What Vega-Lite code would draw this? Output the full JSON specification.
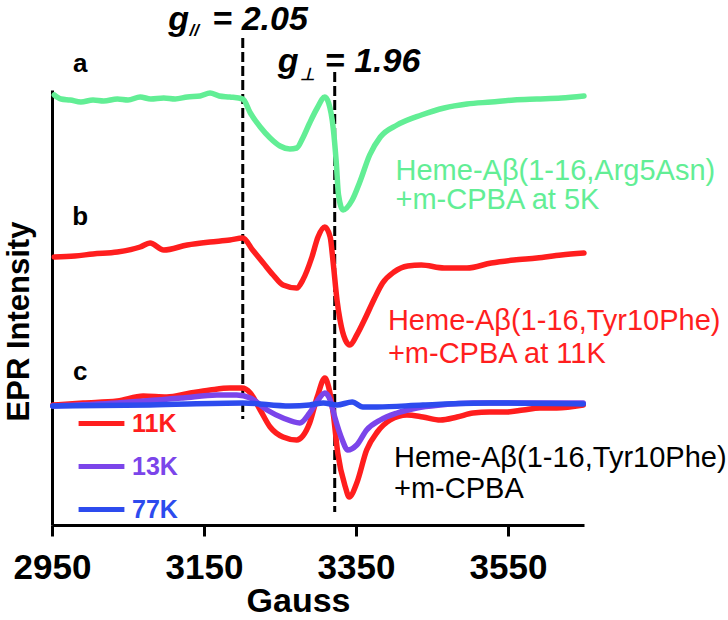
{
  "$schema": "https://vega.github.io/schema/vega-lite/v6.json",
  "autosize": {"type": "none"},
  "width": 532,
  "height": 435,
  "padding": {"left": 52, "top": 90, "right": 144, "bottom": 95},
  "background": "white",
  "config": {"view": {"stroke": null}, "font": "Liberation Sans"},
  "datasets": {
    "curves": [
      {"s": "a", "G": 2953, "v": 430}, {"s": "a", "G": 2962, "v": 426}, {"s": "a", "G": 2974, "v": 425}, {"s": "a", "G": 2988, "v": 423}, {"s": "a", "G": 3004, "v": 425}, {"s": "a", "G": 3018, "v": 424}, {"s": "a", "G": 3036, "v": 426}, {"s": "a", "G": 3050, "v": 425}, {"s": "a", "G": 3066, "v": 428}, {"s": "a", "G": 3080, "v": 426}, {"s": "a", "G": 3097, "v": 427}, {"s": "a", "G": 3112, "v": 426}, {"s": "a", "G": 3128, "v": 428}, {"s": "a", "G": 3145, "v": 429}, {"s": "a", "G": 3158, "v": 432}, {"s": "a", "G": 3170, "v": 429}, {"s": "a", "G": 3184, "v": 428}, {"s": "a", "G": 3201, "v": 426}, {"s": "a", "G": 3211, "v": 412}, {"s": "a", "G": 3224, "v": 398}, {"s": "a", "G": 3237, "v": 387}, {"s": "a", "G": 3250, "v": 379}, {"s": "a", "G": 3263, "v": 376}, {"s": "a", "G": 3272, "v": 377}, {"s": "a", "G": 3280, "v": 387}, {"s": "a", "G": 3289, "v": 402}, {"s": "a", "G": 3299, "v": 417}, {"s": "a", "G": 3309, "v": 428}, {"s": "a", "G": 3314, "v": 422}, {"s": "a", "G": 3320, "v": 397}, {"s": "a", "G": 3324, "v": 363}, {"s": "a", "G": 3327, "v": 330}, {"s": "a", "G": 3333, "v": 315}, {"s": "a", "G": 3345, "v": 325}, {"s": "a", "G": 3355, "v": 343}, {"s": "a", "G": 3368, "v": 370}, {"s": "a", "G": 3382, "v": 388}, {"s": "a", "G": 3404, "v": 400}, {"s": "a", "G": 3436, "v": 410}, {"s": "a", "G": 3466, "v": 417}, {"s": "a", "G": 3496, "v": 421}, {"s": "a", "G": 3528, "v": 423}, {"s": "a", "G": 3558, "v": 425}, {"s": "a", "G": 3588, "v": 426}, {"s": "a", "G": 3620, "v": 427}, {"s": "a", "G": 3650, "v": 429},
      {"s": "b", "G": 2953, "v": 268}, {"s": "b", "G": 2980, "v": 269}, {"s": "b", "G": 3004, "v": 271}, {"s": "b", "G": 3036, "v": 273}, {"s": "b", "G": 3066, "v": 278}, {"s": "b", "G": 3079, "v": 282}, {"s": "b", "G": 3097, "v": 275}, {"s": "b", "G": 3128, "v": 280}, {"s": "b", "G": 3158, "v": 283}, {"s": "b", "G": 3184, "v": 285}, {"s": "b", "G": 3201, "v": 287}, {"s": "b", "G": 3214, "v": 275}, {"s": "b", "G": 3228, "v": 262}, {"s": "b", "G": 3241, "v": 250}, {"s": "b", "G": 3254, "v": 240}, {"s": "b", "G": 3272, "v": 237}, {"s": "b", "G": 3280, "v": 245}, {"s": "b", "G": 3292, "v": 268}, {"s": "b", "G": 3300, "v": 288}, {"s": "b", "G": 3309, "v": 298}, {"s": "b", "G": 3316, "v": 288}, {"s": "b", "G": 3320, "v": 262}, {"s": "b", "G": 3325, "v": 225}, {"s": "b", "G": 3329, "v": 205}, {"s": "b", "G": 3336, "v": 185}, {"s": "b", "G": 3342, "v": 180}, {"s": "b", "G": 3351, "v": 190}, {"s": "b", "G": 3361, "v": 205}, {"s": "b", "G": 3374, "v": 226}, {"s": "b", "G": 3385, "v": 242}, {"s": "b", "G": 3400, "v": 253}, {"s": "b", "G": 3418, "v": 259}, {"s": "b", "G": 3436, "v": 260}, {"s": "b", "G": 3466, "v": 257}, {"s": "b", "G": 3496, "v": 257}, {"s": "b", "G": 3528, "v": 262}, {"s": "b", "G": 3558, "v": 265}, {"s": "b", "G": 3588, "v": 267}, {"s": "b", "G": 3620, "v": 270}, {"s": "b", "G": 3650, "v": 272},
      {"s": "11K", "G": 2951, "v": 120}, {"s": "11K", "G": 2991, "v": 122}, {"s": "11K", "G": 3036, "v": 124}, {"s": "11K", "G": 3070, "v": 129}, {"s": "11K", "G": 3101, "v": 128}, {"s": "11K", "G": 3132, "v": 132}, {"s": "11K", "G": 3158, "v": 135}, {"s": "11K", "G": 3184, "v": 137}, {"s": "11K", "G": 3200, "v": 137}, {"s": "11K", "G": 3211, "v": 132}, {"s": "11K", "G": 3224, "v": 115}, {"s": "11K", "G": 3237, "v": 98}, {"s": "11K", "G": 3254, "v": 88}, {"s": "11K", "G": 3272, "v": 85}, {"s": "11K", "G": 3280, "v": 89}, {"s": "11K", "G": 3289, "v": 102}, {"s": "11K", "G": 3299, "v": 128}, {"s": "11K", "G": 3309, "v": 147}, {"s": "11K", "G": 3314, "v": 138}, {"s": "11K", "G": 3320, "v": 112}, {"s": "11K", "G": 3326, "v": 72}, {"s": "11K", "G": 3336, "v": 38}, {"s": "11K", "G": 3341, "v": 28}, {"s": "11K", "G": 3351, "v": 42}, {"s": "11K", "G": 3364, "v": 75}, {"s": "11K", "G": 3378, "v": 93}, {"s": "11K", "G": 3395, "v": 105}, {"s": "11K", "G": 3417, "v": 110}, {"s": "11K", "G": 3438, "v": 108}, {"s": "11K", "G": 3461, "v": 105}, {"s": "11K", "G": 3483, "v": 108}, {"s": "11K", "G": 3504, "v": 112}, {"s": "11K", "G": 3526, "v": 113}, {"s": "11K", "G": 3549, "v": 113}, {"s": "11K", "G": 3570, "v": 115}, {"s": "11K", "G": 3592, "v": 117}, {"s": "11K", "G": 3614, "v": 117}, {"s": "11K", "G": 3649, "v": 120},
      {"s": "13K", "G": 2951, "v": 119}, {"s": "13K", "G": 3036, "v": 122}, {"s": "13K", "G": 3122, "v": 127}, {"s": "13K", "G": 3167, "v": 130}, {"s": "13K", "G": 3193, "v": 130}, {"s": "13K", "G": 3211, "v": 127}, {"s": "13K", "G": 3233, "v": 115}, {"s": "13K", "G": 3254, "v": 107}, {"s": "13K", "G": 3276, "v": 102}, {"s": "13K", "G": 3289, "v": 112}, {"s": "13K", "G": 3300, "v": 125}, {"s": "13K", "G": 3309, "v": 132}, {"s": "13K", "G": 3316, "v": 125}, {"s": "13K", "G": 3322, "v": 108}, {"s": "13K", "G": 3332, "v": 85}, {"s": "13K", "G": 3339, "v": 75}, {"s": "13K", "G": 3351, "v": 80}, {"s": "13K", "G": 3364, "v": 95}, {"s": "13K", "G": 3382, "v": 105}, {"s": "13K", "G": 3404, "v": 112}, {"s": "13K", "G": 3430, "v": 117}, {"s": "13K", "G": 3461, "v": 120}, {"s": "13K", "G": 3504, "v": 122}, {"s": "13K", "G": 3549, "v": 122}, {"s": "13K", "G": 3592, "v": 122}, {"s": "13K", "G": 3649, "v": 122},
      {"s": "77K", "G": 2951, "v": 119}, {"s": "77K", "G": 3079, "v": 120}, {"s": "77K", "G": 3201, "v": 122}, {"s": "77K", "G": 3263, "v": 119}, {"s": "77K", "G": 3289, "v": 120}, {"s": "77K", "G": 3307, "v": 122}, {"s": "77K", "G": 3325, "v": 120}, {"s": "77K", "G": 3345, "v": 123}, {"s": "77K", "G": 3359, "v": 118}, {"s": "77K", "G": 3378, "v": 118}, {"s": "77K", "G": 3438, "v": 120}, {"s": "77K", "G": 3526, "v": 122}, {"s": "77K", "G": 3649, "v": 121}
    ],
    "glines": [
      {"G": 3201, "v1": 487, "v2": 106},
      {"G": 3322, "v1": 453, "v2": 13}
    ],
    "panels": [
      {"G": 2987, "v": 453, "t": "a"},
      {"G": 2987, "v": 300, "t": "b"},
      {"G": 2987, "v": 145, "t": "c"}
    ],
    "labels": [
      {"grp": "a", "G": 3402, "v": 345, "t": "Heme-Aβ(1-16,Arg5Asn)"},
      {"grp": "a", "G": 3402, "v": 316, "t": "+m-CPBA at 5K"},
      {"grp": "b", "G": 3392, "v": 195, "t": "Heme-Aβ(1-16,Tyr10Phe)"},
      {"grp": "b", "G": 3392, "v": 162, "t": "+m-CPBA at 11K"},
      {"grp": "c", "G": 3400, "v": 58, "t": "Heme-Aβ(1-16,Tyr10Phe)"},
      {"grp": "c", "G": 3400, "v": 27, "t": "+m-CPBA"}
    ],
    "gbig": [
      {"G": 3103, "v": 495, "t": "g"},
      {"G": 3161, "v": 495, "t": "= 2.05"},
      {"G": 3247, "v": 453, "t": "g"},
      {"G": 3309, "v": 453, "t": "= 1.96"}
    ],
    "gsub": [
      {"G": 3131, "v": 489, "t": "//"},
      {"G": 3276, "v": 445, "t": "⊥"}
    ]
  },
  "layer": [
    {
      "data": {"name": "glines"},
      "mark": {"type": "rule", "color": "black", "strokeWidth": 3, "strokeDash": [10, 4]},
      "encoding": {
        "x": {"field": "G", "type": "quantitative"},
        "y": {"field": "v1", "type": "quantitative"},
        "y2": {"field": "v2"}
      }
    },
    {
      "data": {"name": "curves"},
      "mark": {"type": "line", "strokeWidth": 5.5, "strokeJoin": "round", "strokeCap": "round", "interpolate": "monotone"},
      "encoding": {
        "x": {"field": "G", "type": "quantitative",
          "scale": {"domain": [2950, 3650], "nice": false, "zero": false},
          "axis": {"values": [2950, 3150, 3350, 3550], "format": "d", "grid": false,
            "labelFont": "Liberation Sans", "labelFontWeight": "bold", "labelFontSize": 35, "labelColor": "black",
            "labelFlush": false, "labelOverlap": false, "labelBound": false, "labelPadding": 14,
            "domainColor": "black", "domainWidth": 3, "tickColor": "black", "tickWidth": 3, "tickSize": 11,
            "title": "Gauss", "titleFont": "Liberation Sans", "titleFontSize": 34, "titleFontWeight": "bold", "titleColor": "black",
            "titleX": 246, "titleY": 86, "titleAlign": "center", "titleBaseline": "alphabetic"}},
        "y": {"field": "v", "type": "quantitative",
          "scale": {"domain": [0, 435], "nice": false, "zero": false},
          "axis": {"ticks": false, "labels": false, "grid": false,
            "domainColor": "black", "domainWidth": 3,
            "title": "EPR Intensity", "titleFont": "Liberation Sans", "titleFontSize": 31, "titleFontWeight": "bold", "titleColor": "black",
            "titleX": -33, "titleY": 231, "titleAngle": -90, "titleAlign": "center", "titleBaseline": "middle"}},
        "color": {"field": "s", "type": "nominal",
          "scale": {"domain": ["a", "b", "11K", "13K", "77K"], "range": ["#62EE95", "#FF1E1E", "#FF1E1E", "#7B45EA", "#2D4BEE"]},
          "legend": {"values": ["11K", "13K", "77K"], "orient": "none", "legendX": 24, "legendY": 308, "title": null,
            "symbolType": "stroke", "symbolSize": 2100, "symbolStrokeWidth": 5, "rowPadding": 4,
            "labelFont": "Liberation Sans", "labelFontSize": 25, "labelFontWeight": "bold", "labelOffset": 5,
            "encode": {"labels": {"update": {"fill": {"scale": "color", "field": "value"}}}}}}
      }
    },
    {
      "data": {"name": "panels"},
      "mark": {"type": "text", "font": "Liberation Sans", "fontWeight": "bold", "fontSize": 26, "align": "center", "baseline": "alphabetic", "color": "black"},
      "encoding": {
        "x": {"field": "G", "type": "quantitative"},
        "y": {"field": "v", "type": "quantitative"},
        "text": {"field": "t"}
      }
    },
    {
      "data": {"name": "labels"},
      "transform": [{"filter": "datum.grp === 'a'"}],
      "mark": {"type": "text", "font": "Liberation Sans", "fontSize": 29, "align": "left", "baseline": "alphabetic", "color": "#62EE95"},
      "encoding": {
        "x": {"field": "G", "type": "quantitative"},
        "y": {"field": "v", "type": "quantitative"},
        "text": {"field": "t"}
      }
    },
    {
      "data": {"name": "labels"},
      "transform": [{"filter": "datum.grp === 'b'"}],
      "mark": {"type": "text", "font": "Liberation Sans", "fontSize": 29, "align": "left", "baseline": "alphabetic", "color": "#FF1E1E"},
      "encoding": {
        "x": {"field": "G", "type": "quantitative"},
        "y": {"field": "v", "type": "quantitative"},
        "text": {"field": "t"}
      }
    },
    {
      "data": {"name": "labels"},
      "transform": [{"filter": "datum.grp === 'c'"}],
      "mark": {"type": "text", "font": "Liberation Sans", "fontSize": 29, "align": "left", "baseline": "alphabetic", "color": "black"},
      "encoding": {
        "x": {"field": "G", "type": "quantitative"},
        "y": {"field": "v", "type": "quantitative"},
        "text": {"field": "t"}
      }
    },
    {
      "data": {"name": "gbig"},
      "mark": {"type": "text", "font": "Liberation Sans", "fontWeight": "bold", "fontStyle": "italic", "fontSize": 34, "align": "left", "baseline": "alphabetic", "color": "black"},
      "encoding": {
        "x": {"field": "G", "type": "quantitative"},
        "y": {"field": "v", "type": "quantitative"},
        "text": {"field": "t"}
      }
    },
    {
      "data": {"name": "gsub"},
      "mark": {"type": "text", "font": "Liberation Sans", "fontWeight": "bold", "fontStyle": "italic", "fontSize": 17, "align": "left", "baseline": "alphabetic", "color": "black"},
      "encoding": {
        "x": {"field": "G", "type": "quantitative"},
        "y": {"field": "v", "type": "quantitative"},
        "text": {"field": "t"}
      }
    }
  ]
}
